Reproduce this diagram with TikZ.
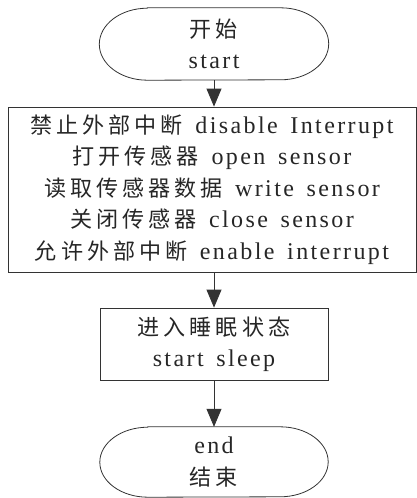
\documentclass[tikz,border=0pt]{standalone}
\usepackage{fontspec}
\setmainfont{Liberation Serif}[LetterSpace=10,WordSpace=1.5]
\newfontfamily\cjk{Noto Sans CJK SC}[LetterSpace=18,Scale=0.92]
\usetikzlibrary{arrows.meta}
\begin{document}
\begin{tikzpicture}[x=1pt,y=-1pt]
\tikzset{
  txt/.style={font=\fontsize{24}{31.5}\selectfont, align=center, text=black!85, inner sep=0pt},
  procbox/.style={txt, draw=black!80, line width=0.8pt},
  termnode/.style={txt},
  outline/.style={draw=black!80, line width=0.8pt},
  flow/.style={draw=black!80, line width=0.8pt, -{Triangle[width=15pt,length=18pt]}}
}
\useasboundingbox (0,0) rectangle (417,498);
\node[termnode, minimum width=229pt, minimum height=72pt] (start) at (214,44) {{\cjk 开始}\\start};
\node[procbox, minimum width=408pt, minimum height=165pt] (main) at (212,189.5)
  {{\cjk 禁止外部中断} disable Interrupt\\
   {\cjk 打开传感器} open sensor\\
   {\cjk 读取传感器数据} write sensor\\
   {\cjk 关闭传感器} close sensor\\
   {\cjk 允许外部中断} enable interrupt};
\node[procbox, minimum width=228pt, minimum height=72pt] (sleep) at (214,344) {{\cjk 进入睡眠状态}\\start sleep};
\node[termnode, minimum width=228pt, minimum height=70pt] (end) at (214,462) {end\\{\cjk 结束}};
\draw[outline] ([xshift=48pt]start.north west) -- ([xshift=-48pt]start.north east)
  arc[start angle=90,end angle=-90,x radius=48pt,y radius=36pt]
  -- ([xshift=48pt]start.south west)
  arc[start angle=270,end angle=90,x radius=48pt,y radius=36pt] -- cycle;
\draw[outline] ([xshift=48pt]end.north west) -- ([xshift=-48pt]end.north east)
  arc[start angle=90,end angle=-90,x radius=48pt,y radius=35pt]
  -- ([xshift=48pt]end.south west)
  arc[start angle=270,end angle=90,x radius=48pt,y radius=35pt] -- cycle;
\draw[flow] (start.south) -- (start.south |- main.north);
\draw[flow] (sleep.north |- main.south) -- (sleep.north);
\draw[flow] (sleep.south) -- (end.north);
\end{tikzpicture}
\end{document}
